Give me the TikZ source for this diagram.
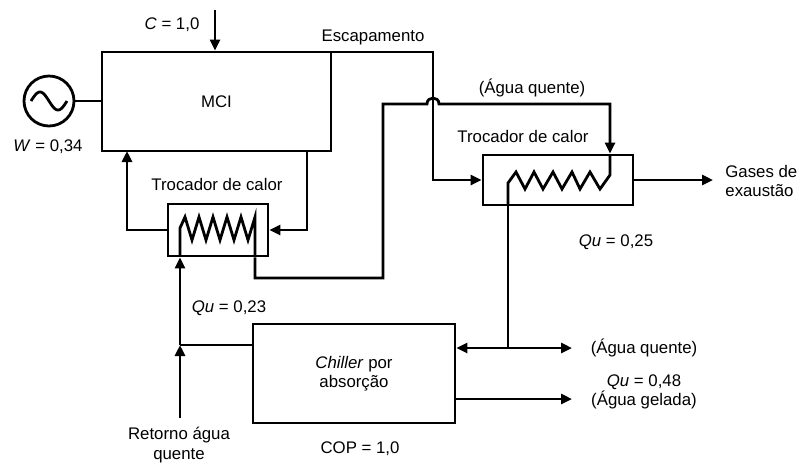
\documentclass[tikz,border=0pt]{standalone}
\usepackage{fontspec}
\setmainfont{Liberation Sans}
\usetikzlibrary{arrows.meta}
\tikzset{
  box/.style={draw, line width=1.4pt, rectangle, inner sep=0pt, align=center,
    font=\fontsize{8.4}{9.6}\selectfont},
  pipe/.style={line width=1.4pt},
  flow/.style={line width=1.4pt, -{Triangle[length=5.5pt,width=5pt]}},
  lbl/.style={inner sep=0pt, align=center, font=\fontsize{8.4}{9.6}\selectfont},
}
\begin{document}
\begin{tikzpicture}[x=0.5pt,y=-0.5pt]
    \useasboundingbox (0,0) rectangle (802,463);
    % Engine and generator
    \node[box, minimum width=114.5pt, minimum height=49.5pt] (mci) at (216.5,101.5) {MCI};
    \node[box, circle, minimum size=25pt] (gen) at (49,101) {};
    \draw[pipe] plot[domain=-18:18, samples=40] ({49+\x}, {101+9*sin(10*\x)});
    \draw[pipe] (gen) -- (gen -| mci.west);
    % Fuel in
    \coordinate (fuel) at (215,10);
    \draw[flow] (fuel) -- (fuel |- mci.north);
    % Heat exchangers and chiller
    \node[box, minimum width=50pt, minimum height=26pt] (hxa) at (218,230) {};
    \node[box, minimum width=75pt, minimum height=25pt] (hxb) at (558,180) {};
    \node[box, minimum width=101pt, minimum height=49.5pt] (chl) at (354,373.5) {\textit{Chiller} por\\absorção};
    % Exhaust gases
    \coordinate (exh) at (433,52);
    \draw[flow] (exh -| mci.east) -- (exh) |- (hxb.west);
    \coordinate (gasout) at (713,180);
    \draw[flow] (hxb.east) -- (gasout);
    % Engine cooling loop
    \coordinate (cwout) at (307,151);
    \coordinate (cwin) at (127,151);
    \draw[flow] (cwout) |- (hxa.east);
    \draw[flow] (hxa.west) -| (cwin);
    % Coil of the first exchanger
    \draw[pipe] (180,256) -- (180,228) -- (185,217) -- (192,240) -- (199,217) -- (206,240)
      -- (213,217) -- (220,240) -- (227,217) -- (234,240) -- (241,217) -- (248,240)
      -- (255,217) -- (255,256);
    % Hot water up to the second exchanger (hop over exhaust)
    \coordinate (hwa) at (255,278);
    \coordinate (hwb) at (383,278);
    \coordinate (hwc) at (383,104);
    \coordinate (hwd) at (610,104);
    \draw[flow] (hxa.south -| hwa) -- (hwa) -- (hwb) -- (hwc) -- (427,104)
      .. controls (427,96) and (439,96) .. (439,104) -- (hwd) -- (hwd |- hxb.north);
    % Coil of the second exchanger
    \draw[pipe] (610,155) -- (610,175) -- (600,189) -- (590,172) -- (580,189) -- (572,172)
      -- (562,189) -- (553,172) -- (543,189) -- (534,172) -- (525,189) -- (516,172)
      -- (508,183) -- (508,205);
    % Hot water to chiller and out
    \coordinate (split) at (508,348);
    \coordinate (hwout) at (572,348);
    \draw[pipe] (hxb.south -| split) -- (split);
    \draw[flow] (split) -- (split -| chl.east);
    \draw[flow] (split) -- (hwout);
    % Chilled water out
    \coordinate (chout) at (572,399);
    \draw[flow] (chl.east |- chout) -- (chout);
    % Return water
    \coordinate (ret) at (180,418);
    \coordinate (join) at (180,345);
    \draw[flow] (ret) -- (join);
    \draw[flow] (join) -- (join |- hxa.south);
    \draw[pipe] (chl.west |- join) -- (join);
    % Labels
    \node[lbl] (lfuel) at (172,25) {\textit{C} = 1,0};
    \node[lbl] (lexh) at (373,37) {Escapamento};
    \node[lbl] (lgen) at (48,147) {\textit{W} = 0,34};
    \node[lbl] (lhxa) at (217,184) {Trocador de calor};
    \node[lbl] (lhot) at (532,88) {(Água quente)};
    \node[lbl] (lhxb) at (523,136) {Trocador de calor};
    \node[lbl] (lqub) at (616,242) {\textit{Qu} = 0,25};
    \node[lbl, anchor=west, align=left] (lgas) at (725,181) {Gases de\\exaustão};
    \node[lbl] (lqua) at (229,308) {\textit{Qu} = 0,23};
    \node[lbl] (lcop) at (360,449) {COP = 1,0};
    \node[lbl] (lret) at (179,445) {Retorno água\\quente};
    \node[lbl] (lhw) at (644,348) {(Água quente)};
    \node[lbl] (lcold) at (644,392) {\textit{Qu} = 0,48\\(Água gelada)};
\end{tikzpicture}
\end{document}
